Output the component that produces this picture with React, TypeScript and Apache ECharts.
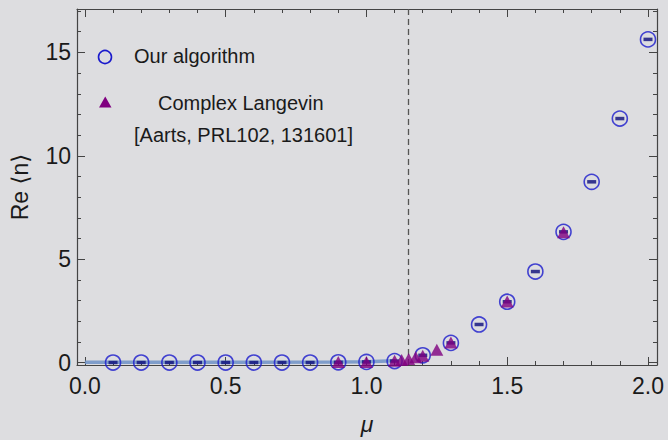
import React, { useEffect, useRef } from "react";
import * as echarts from "echarts";

// ---- data ----
const ourMu = [0.1, 0.2, 0.3, 0.4, 0.5, 0.6, 0.7, 0.8, 0.9, 1.0, 1.1, 1.2, 1.3, 1.4, 1.5, 1.6, 1.7, 1.8, 1.9, 2.0];
const ourN = [0, 0, 0, 0, 0, 0, 0, 0, 0.01, 0.03, 0.07, 0.35, 0.95, 1.84, 2.94, 4.4, 6.32, 8.74, 11.8, 15.63];

const clMu = [0.9, 1.0, 1.1, 1.125, 1.15, 1.175, 1.2, 1.25, 1.3, 1.5, 1.7];
const clN = [0.02, 0.03, 0.08, 0.12, 0.17, 0.25, 0.33, 0.62, 0.97, 2.95, 6.3];

const bandMu = [0, 0.9, 1.0, 1.1];
const bandN = [0.01, 0.02, 0.04, 0.08];

const muCritical = 1.15;

const xMajorTicks = [0, 0.5, 1.0, 1.5, 2.0];
const xMinorTicks = [0, 0.1, 0.2, 0.3, 0.4, 0.5, 0.6, 0.7, 0.8, 0.9, 1.0, 1.1, 1.2, 1.3, 1.4, 1.5, 1.6, 1.7, 1.8, 1.9, 2.0];
const yMajorTicks = [0, 5, 10, 15];
const yMinorTicks = [0, 1, 2, 3, 4, 5, 6, 7, 8, 9, 10, 11, 12, 13, 14, 15, 16, 17];

const legendOurs = "Our algorithm";
const legendCL1 = "Complex Langevin";
const legendCL2 = "[Aarts, PRL102, 131601]";

const FONT = "'Liberation Sans', Arial, 'DejaVu Sans', sans-serif";
const BG = "#dddde0";
const FRAME = "#444444";
const BLUE = "#1a1acc";
const PURPLE = "#800080";

export default function App() {
  const ref = useRef<HTMLDivElement>(null);

  useEffect(() => {
    document.body.style.margin = "0";
    document.body.style.background = BG;
    if (!ref.current) return;
    const chart = echarts.init(ref.current, null, { renderer: "svg" });

    const X_MIN = -0.028;
    const X_MAX = 2.032;
    const Y_MIN = -0.12;
    const Y_MAX = 17.1;

    const axisLine = { show: true, onZero: false, lineStyle: { color: FRAME, width: 1.2 } };
    const noLine = { show: false, onZero: false };
    const tickStyle = { color: FRAME, width: 1 };

    const xAxisBase = { type: "value", min: X_MIN, max: X_MAX, splitLine: { show: false } };
    const yAxisBase = { type: "value", min: Y_MIN, max: Y_MAX, splitLine: { show: false } };

    const option: any = {
      animation: false,
      backgroundColor: BG,
      grid: { left: 77, right: 11, top: 9, bottom: 75, containLabel: false },
      xAxis: [
        {
          ...xAxisBase,
          position: "bottom",
          axisLine,
          axisTick: { show: true, inside: true, length: 8, customValues: xMajorTicks, lineStyle: tickStyle },
          axisLabel: {
            show: true,
            customValues: xMajorTicks,
            formatter: (v: number) => v.toFixed(1),
            fontSize: 23,
            fontFamily: FONT,
            color: "#1a1a1a",
            margin: 9,
          },
          name: "μ",
          nameLocation: "middle",
          nameGap: 47,
          nameTextStyle: { fontSize: 23, fontStyle: "italic", fontFamily: FONT, color: "#1a1a1a" },
        },
        {
          ...xAxisBase,
          position: "bottom",
          axisLine: noLine,
          axisTick: { show: true, inside: true, length: 4, customValues: xMinorTicks, lineStyle: tickStyle },
          axisLabel: { show: false },
        },
        {
          ...xAxisBase,
          position: "top",
          axisLine,
          axisTick: { show: true, inside: true, length: 8, customValues: xMajorTicks, lineStyle: tickStyle },
          axisLabel: { show: false },
        },
        {
          ...xAxisBase,
          position: "top",
          axisLine: noLine,
          axisTick: { show: true, inside: true, length: 4, customValues: xMinorTicks, lineStyle: tickStyle },
          axisLabel: { show: false },
        },
      ],
      yAxis: [
        {
          ...yAxisBase,
          position: "left",
          axisLine,
          axisTick: { show: true, inside: true, length: 8, customValues: yMajorTicks, lineStyle: tickStyle },
          axisLabel: {
            show: true,
            customValues: yMajorTicks,
            fontSize: 23,
            fontFamily: FONT,
            color: "#1a1a1a",
            margin: 6,
          },
          name: "Re ⟨n⟩",
          nameLocation: "middle",
          nameGap: 46,
          nameRotate: 90,
          nameTextStyle: { fontSize: 23, fontFamily: FONT, color: "#1a1a1a" },
        },
        {
          ...yAxisBase,
          position: "left",
          axisLine: noLine,
          axisTick: { show: true, inside: true, length: 4, customValues: yMinorTicks, lineStyle: tickStyle },
          axisLabel: { show: false },
        },
        {
          ...yAxisBase,
          position: "right",
          axisLine,
          axisTick: { show: true, inside: true, length: 8, customValues: yMajorTicks, lineStyle: tickStyle },
          axisLabel: { show: false },
        },
        {
          ...yAxisBase,
          position: "right",
          axisLine: noLine,
          axisTick: { show: true, inside: true, length: 4, customValues: yMinorTicks, lineStyle: tickStyle },
          axisLabel: { show: false },
        },
      ],
      series: [
        {
          type: "line",
          name: "band",
          data: bandMu.map((m, i) => [m, bandN[i]]),
          showSymbol: false,
          symbol: "none",
          lineStyle: { color: "#6f92c6", width: 3.5, opacity: 0.85 },
          z: 1,
          markLine: {
            silent: true,
            symbol: "none",
            label: { show: false },
            lineStyle: { color: "#555555", type: [6, 4], width: 1.3 },
            data: [{ xAxis: muCritical }],
          },
        },
        {
          type: "scatter",
          name: legendOurs,
          data: ourMu.map((m, i) => [m, ourN[i]]),
          symbol: "circle",
          symbolSize: 15,
          itemStyle: { color: "rgba(0,0,0,0)", borderColor: BLUE, borderWidth: 1.6 },
          z: 3,
        },
        {
          type: "scatter",
          name: "errbar",
          data: ourMu.map((m, i) => [m, ourN[i]]),
          symbol: "rect",
          symbolSize: [9, 3.5],
          itemStyle: { color: "#0c0c7a" },
          z: 4,
        },
        {
          type: "scatter",
          name: legendCL1,
          data: clMu.map((m, i) => [m, clN[i]]),
          symbol: "triangle",
          symbolSize: [13, 12],
          itemStyle: { color: PURPLE },
          z: 5,
        },
      ],
      graphic: [
        {
          type: "circle",
          shape: { cx: 105, cy: 57, r: 6.5 },
          style: { fill: "none", stroke: BLUE, lineWidth: 1.6 },
        },
        {
          type: "text",
          x: 134,
          y: 56,
          style: { text: legendOurs, fontSize: 20, fontFamily: FONT, fill: "#1a1a1a", verticalAlign: "middle" },
        },
        {
          type: "polygon",
          shape: { points: [[99, 107.5], [111.5, 107.5], [105.25, 96.5]] },
          style: { fill: PURPLE },
        },
        {
          type: "text",
          x: 158,
          y: 103,
          style: { text: legendCL1, fontSize: 20, fontFamily: FONT, fill: "#1a1a1a", verticalAlign: "middle" },
        },
        {
          type: "text",
          x: 134,
          y: 135,
          style: { text: legendCL2, fontSize: 20, fontFamily: FONT, fill: "#1a1a1a", verticalAlign: "middle" },
        },
      ],
    };

    chart.setOption(option);
    return () => chart.dispose();
  }, []);

  return <div ref={ref} style={{ width: 668, height: 440 }} />;
}
